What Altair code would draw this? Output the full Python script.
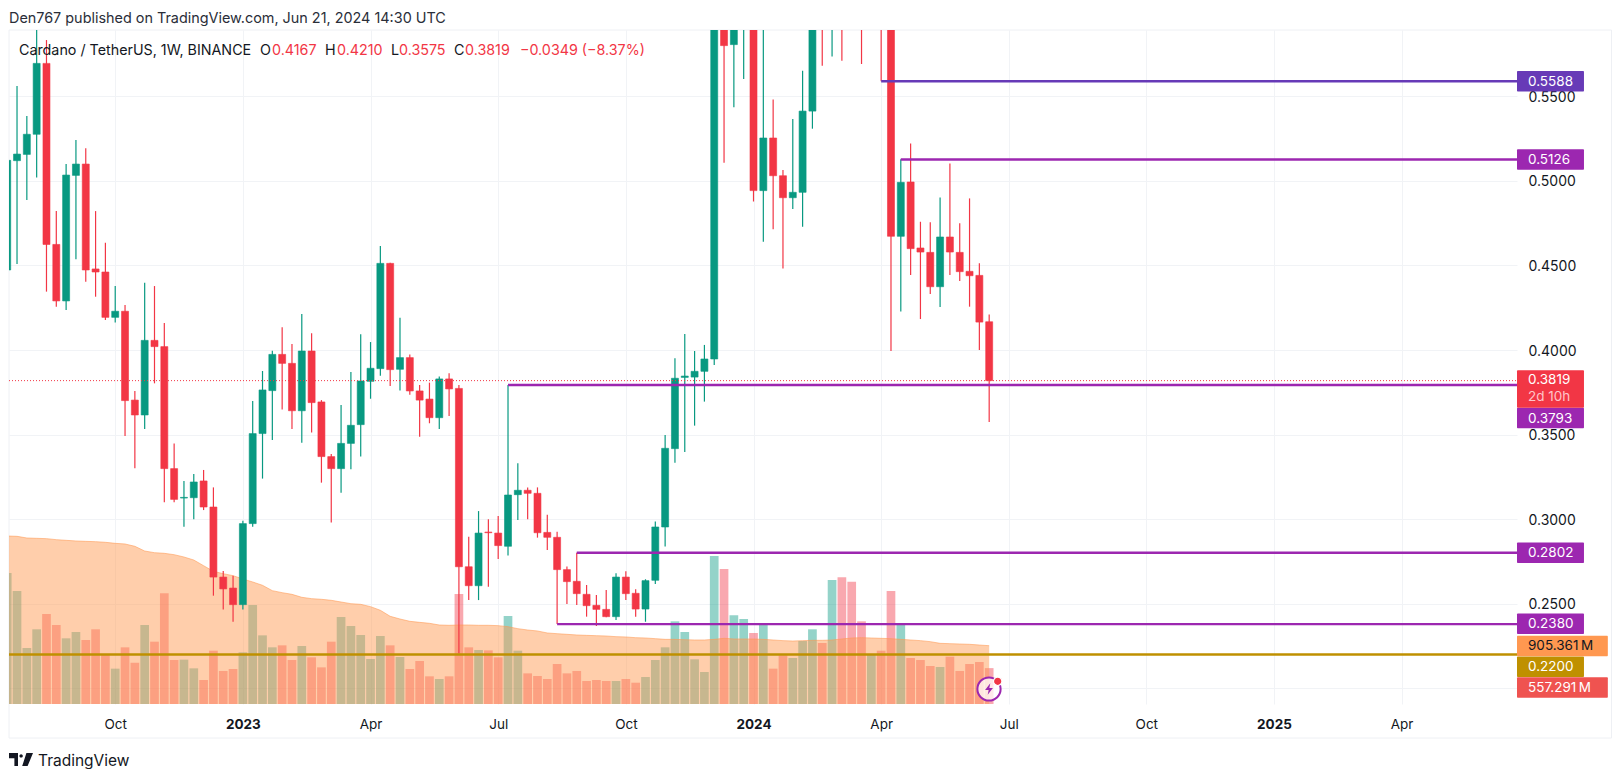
import altair as alt
import pandas as pd

opens = [.4473,.5119,.5156,.5275,.5694,.4624,.4290,.5032,.5099,.4479,.4461,.4193,.4229,.3704,.3616,.4057,.4020,.3299,.3125,.3127,
         .3226,.3072,.2658,.2593,.2495,.2974,.3506,.3760,.3974,.3921,.3641,.3994,.3693,.3370,.3299,.3448,.3559,.3815,.3890,.4512,
         .3886,.3955,.3758,.3710,.3600,.3829,.3773,.2719,.2607,.2924,.2918,.2840,.3145,.3171,.3153,.2922,.2893,.2702,.2633,.2556,
         .2491,.2467,.2424,.2658,.2562,.2469,.2639,.2954,.3417,.3838,.3840,.3874,.3947,.6000,.5805,.6000,.6300,.4942,.5253,.5030,
         .4900,.4932,.5412,.6200,.5950,.6200,.7000,.7200,.6000,.6500,.5950,.4672,.4993,.4603,.4577,.4374,.4668,.4577,.4465,.4441,.4167]
closes = [.5121,.5158,.5275,.5694,.4624,.4290,.5034,.5099,.4473,.4461,.4193,.4229,.3701,.3616,.4057,.4020,.3299,.3117,.3129,.3220,
          .3072,.2658,.2588,.2495,.2974,.3506,.3764,.3974,.3921,.3641,.3994,.3689,.3370,.3299,.3448,.3555,.3817,.3892,.4512,.3884,
          .3955,.3758,.3704,.3600,.3829,.3770,.2719,.2607,.2918,.2920,.2844,.3143,.3171,.3153,.2920,.2893,.2702,.2631,.2560,.2489,
          .2467,.2424,.2658,.2560,.2469,.2637,.2954,.3419,.3833,.3846,.3874,.3947,.6000,.5799,.6100,.6200,.4942,.5253,.5030,.4900,
          .4932,.5412,.6000,.6000,.6050,.6000,.6600,.6500,.6500,.6000,.4672,.4991,.4599,.4579,.4374,.4668,.4579,.4463,.4439,.4165,.3819]
highs = [.5121,.5560,.5383,.6200,.5832,.4821,.5099,.5241,.5192,.4821,.4634,.4378,.4266,.3758,.4398,.4378,.4160,.3448,.3226,.3267,
         .3291,.3188,.2694,.2666,.2991,.3699,.3876,.3996,.4134,.4035,.4213,.4099,.3704,.3385,.3675,.3870,.4093,.4047,.4615,.4516,
         .4191,.3974,.3793,.3807,.3844,.3862,.3793,.2897,.3048,.2999,.3019,.3793,.3330,.3188,.3188,.3027,.2926,.2721,.2802,.2611,
         .2552,.2582,.2680,.2692,.2586,.2645,.2987,.3498,.3951,.4095,.3994,.4030,.6300,.6400,.6300,.6600,.6800,.6000,.5481,.5064,
         .5365,.5651,.6100,.6300,.6200,.6500,.7200,.7800,.7000,.6800,.6000,.5127,.5221,.4758,.4755,.4902,.5103,.4749,.4896,.4512,.4210]
lows = [.4473,.4508,.4887,.5020,.4345,.4256,.4236,.4536,.4404,.4315,.4177,.4162,.3492,.3301,.3533,.3803,.3100,.3100,.2956,.2999,
        .3054,.2548,.2467,.2394,.2467,.2956,.3240,.3468,.3649,.3533,.3452,.3513,.3216,.2980,.3157,.3295,.3370,.3712,.3848,.3787,
        .3760,.3736,.3488,.3567,.3533,.3610,.2207,.2522,.2522,.2601,.2765,.2785,.2995,.2999,.2891,.2818,.2381,.2499,.2493,.2424,
        .2369,.2420,.2404,.2522,.2424,.2394,.2617,.2838,.3334,.3397,.3553,.3695,.3911,.5107,.5434,.5602,.4877,.4640,.4713,.4481,
        .4833,.4729,.5308,.5680,.5734,.5710,.6000,.5690,.5950,.5588,.3994,.4227,.4443,.4183,.4331,.4254,.4443,.4408,.4256,.4000,.3575]
volumes = [2035,1755,870,1160,1398,1227,1020,1118,994,1160,766,549,880,642,1227,968,1719,683,689,554,
           373,828,513,544,802,1538,1066,880,911,683,901,725,569,968,1351,1211,1072,699,1056,911,
           730,544,668,430,388,430,1708,880,839,833,725,1367,828,476,435,388,621,476,513,357,
           373,357,357,388,331,419,683,880,1284,1118,694,497,2299,2097,1377,1320,1103,1227,549,756,
           714,978,1160,947,1926,1967,1900,1284,777,828,1755,1227,714,683,590,575,735,513,621,652,557.291]
vol_ma = [2609,2604,2578,2573,2568,2552,2542,2532,2526,2521,2511,2495,2485,2449,2376,2350,2340,2319,2283,2236,
          2148,2060,2024,1993,1941,1895,1843,1760,1729,1703,1657,1636,1626,1610,1584,1558,1548,1512,1455,1362,
          1320,1284,1268,1253,1227,1222,1227,1227,1222,1222,1217,1201,1170,1149,1134,1103,1092,1082,1072,1066,
          1061,1056,1046,1041,1030,1025,1015,1004,1004,999,994,994,1004,1020,1010,1010,1010,1004,994,984,
          978,984,989,989,994,1010,1025,1030,1025,1020,1015,1004,994,984,968,942,937,932,927,916,905.361]

tick_bars = [11, 24, 37, 50, 63, 76, 89, 102, 116, 129, 142]
tick_names = ["Oct", "2023", "Apr", "Jul", "Oct", "2024", "Apr", "Jul", "Oct", "2025", "Apr"]
year_bars = [24, 76, 129]
price_ticks = [.20, .25, .30, .35, .40, .45, .50, .55]

level_start = [89, 91, 51, 58, 56, 0.1833]
level_price = [.5588, .5126, .3793, .2802, .2380, .2200]
level_color = ["#673ab7", "#9c27b0", "#9c27b0", "#9c27b0", "#9c27b0", "#bf9000"]

# price tags on the axis: the centre of each tag after the axis has stacked them
tag_center = [.5588, .5126, .3598, .2802, .2382, .2128, .2251, .2005]
tag_text = ["0.5588", "0.5126", "0.3793", "0.2802", "0.2380", "0.2200", "905.361\u202fM", "557.291\u202fM"]
tag_fill = ["#673ab7", "#9c27b0", "#9c27b0", "#9c27b0", "#9c27b0", "#bf9000", "#ff9850", "#ef5350"]
tag_ink = ["#ffffff", "#ffffff", "#ffffff", "#ffffff", "#ffffff", "#ffffff", "#131722", "#ffffff"]
tag_wide = [False, False, False, False, False, False, True, True]

UP, DOWN = "#089981", "#f23645"
FONT = "Inter"
INK = "#131722"

X0, X1 = 0.1833, 153.75       # bar-index window of the pane
P0, P1 = 0.19078, 0.58913     # price window of the pane
V0, V1 = 0, 10467             # volume window (M)
TAG_END, TAG_END_WIDE = 160.57, 163.0
TH = 0.00606                  # half-height of a price tag, in price units

df = pd.DataFrame({
    "bar": list(range(len(opens))), "open": opens, "close": closes, "high": highs, "low": lows,
    "vol": volumes, "ma": vol_ma,
})
df["dir"] = ["up" if c >= o else "down" for o, c in zip(opens, closes)]

xs = alt.Scale(domain=[X0, X1], range=[0, 1508], nice=False, zero=False, padding=0)
ps = alt.Scale(domain=[P0, P1], nice=False, zero=False)
vs = alt.Scale(domain=[V0, V1], nice=False, zero=False)
cs = alt.Color("dir:N", scale=alt.Scale(domain=["up", "down"], range=[UP, DOWN]), legend=None)

label_expr = "".join(f"datum.value=={b}?'{n}':" for b, n in zip(tick_bars, tick_names)) + "''"
year_test = "||".join(f"datum.value=={b}" for b in year_bars)
x_axis = alt.Axis(
    values=tick_bars, labelExpr=label_expr, grid=True, gridColor="#f1f3f6", domain=False, ticks=False,
    labelFont=FONT, labelFontSize=13.5, labelColor=INK, labelPadding=13, labelOverlap=False,
    labelFlush=False, labelBound=False, labelFontWeight=alt.expr(f"({year_test})?'bold':'normal'"))


def X(f):
    return alt.X(f, scale=xs, axis=x_axis, title=None)


def Y(f):
    return alt.Y(f, scale=ps, axis=None, title=None)


def V(f):
    return alt.Y(f, scale=vs, axis=None, title=None)


axes_y = alt.Chart(pd.DataFrame({"p": price_ticks})).mark_rule(opacity=0).encode(
    y=alt.Y("p:Q", scale=ps, title=None, axis=alt.Axis(
        orient="right", values=price_ticks, format=".4f", grid=True, gridColor="#f1f3f6", domain=False, ticks=False,
        labelFont=FONT, labelFontSize=14, labelColor=INK, labelPadding=11, labelOverlap=False, labelOffset=1,
        labelFlush=False, labelBound=False)),
)

base = alt.Chart(df)
vol_bars = base.mark_bar(size=8.7, opacity=0.43, clip=True, orient="vertical").encode(
    x=X("bar:Q"), y=V("vol:Q"), y2=alt.Y2(datum=0), color=cs)
ma_area = base.mark_area(color="#ff9850", opacity=0.48, clip=True).encode(
    x=X("bar:Q"), y=V("ma:Q"), y2=alt.Y2(datum=0))
ma_line = base.mark_line(color="#ff9850", opacity=0.55, strokeWidth=1, clip=True).encode(
    x=X("bar:Q"), y=V("ma:Q"))
wicks = base.mark_rule(strokeWidth=1.2, clip=True).encode(
    x=X("bar:Q"), y=Y("low:Q"), y2="high:Q", color=cs)
bodies = base.mark_bar(size=7, clip=True, orient="vertical", strokeWidth=0.6).encode(
    x=X("bar:Q"), y=Y("open:Q"), y2="close:Q", color=cs, stroke=cs)

levels = alt.Chart(pd.DataFrame({"start": level_start, "p": level_price, "c": level_color})).mark_rule(
    strokeWidth=2.4, clip=True).encode(
    x=X("start:Q"), x2=alt.X2(datum=X1), y=Y("p:Q"), color=alt.Color("c:N", scale=None))

last_line = alt.Chart(pd.DataFrame({"p": [closes[-1]], "a": [X0], "b": [X1]})).mark_rule(
    strokeDash=[1, 2], strokeWidth=1, color=DOWN, clip=True).encode(
    x=X("a:Q"), x2="b:Q", y=Y("p:Q"))

tag_df = pd.DataFrame({
    "p": tag_center, "t": tag_text, "fill": tag_fill, "ink": tag_ink,
    "end": [TAG_END_WIDE if w else TAG_END for w in tag_wide],
})
tag_df["edge"] = X1
tag_df["hi"] = tag_df["p"] + TH
tag_df["lo"] = tag_df["p"] - TH
tag_rects = alt.Chart(tag_df).mark_rect(cornerRadius=1).encode(
    x=X("edge:Q"), x2="end:Q", y=Y("hi:Q"), y2="lo:Q", color=alt.Color("fill:N", scale=None))
tag_texts = alt.Chart(tag_df).mark_text(font=FONT, fontSize=13.5, align="left", baseline="middle", dx=11, dy=0.5).encode(
    x=X("edge:Q"), y=Y("p:Q"), text="t:N", color=alt.Color("ink:N", scale=None))

last_rect = alt.Chart(pd.DataFrame({"hi": [.3881], "lo": [.3659], "edge": [X1], "end": [TAG_END]})).mark_rect(
    cornerRadius=1, color=DOWN).encode(
    x=X("edge:Q"), x2="end:Q", y=Y("hi:Q"), y2="lo:Q")
last_text = alt.Chart(pd.DataFrame({
    "p": [.3823, .3724], "t": ["0.3819", "2d 10h"], "c": ["#ffffff", "#ffc4c9"], "edge": [X1, X1],
})).mark_text(font=FONT, fontSize=13.5, align="left", baseline="middle", dx=11, dy=0.5).encode(
    x=X("edge:Q"), y=Y("p:Q"), text="t:N", color=alt.Color("c:N", scale=None))


def txt(text, px, py, color=INK, size=14.3, weight="normal", align="left"):
    return alt.Chart(pd.DataFrame({"t": [text]})).mark_text(
        color=color, font=FONT, fontSize=size, fontWeight=weight, align=align, baseline="middle").encode(
        x=alt.value(px - 9), y=alt.value(py - 30), text="t:N")


header = [
    txt("Cardano / TetherUS, 1W, BINANCE", 19, 51),
    txt("O", 260, 51), txt("0.4167", 272, 51, DOWN),
    txt("H", 325, 51), txt("0.4210", 337, 51, DOWN),
    txt("L", 391, 51), txt("0.3575", 399, 51, DOWN),
    txt("C", 454, 51), txt("0.3819", 465, 51, DOWN),
    txt("\u22120.0349 (\u22128.37%)", 520, 51, DOWN),
]
footer = [txt("TradingView", 38, 761, color="#131722", size=15.5)]

one = pd.DataFrame({"a": [0]})
logo = alt.Chart(one).mark_point(
    shape="M-1 -0.55 H-0.25 V0.55 H-0.55 V-0.1 H-1 Z M-0.13 -0.3 A0.14 0.14 0 1 0 0.15 -0.3 A0.14 0.14 0 1 0 -0.13 -0.3 Z M0.45 -0.55 H1 L0.55 0.55 H0.1 Z",
    filled=True, color="#131722", size=576, opacity=1).encode(x=alt.value(21 - 9), y=alt.value(759.5 - 30))

icon_ring = alt.Chart(one).mark_point(shape="circle", size=540, filled=True, fill="#ffffff", fillOpacity=0.75,
                                      stroke="#9c27b0", strokeWidth=2, opacity=1).encode(
    x=alt.value(989 - 9), y=alt.value(689 - 30))
icon_bolt = alt.Chart(one).mark_point(
    shape="M0.2 -0.9 L-0.6 0.15 H-0.05 L-0.2 0.9 L0.6 -0.15 H0.05 Z",
    filled=True, color="#9c27b0", size=170, opacity=1).encode(x=alt.value(989 - 9), y=alt.value(689 - 30))
icon_dot = alt.Chart(one).mark_point(shape="circle", size=70, filled=True, fill=DOWN, stroke="#ffffff",
                                     strokeWidth=1.2, opacity=1).encode(x=alt.value(997.7 - 9), y=alt.value(681.3 - 30))

frame = alt.Chart(one).mark_rect(fillOpacity=0, stroke="#eef0f4", strokeWidth=1).encode(
    x=alt.value(0), x2=alt.value(1602.5), y=alt.value(0), y2=alt.value(708))

chart = alt.layer(
    axes_y, frame, vol_bars, ma_area, ma_line, wicks, bodies, levels, last_line,
    tag_rects, tag_texts, last_rect, last_text,
    *header, *footer, logo, icon_ring, icon_bolt, icon_dot,
).resolve_scale(y="independent").properties(
    width=1508, height=674,
    padding={"left": 1, "top": 22, "right": 95, "bottom": 65},
    autosize=alt.AutoSizeParams(type="none"),
    title=alt.TitleParams("Den767 published on TradingView.com, Jun 21, 2024 14:30 UTC", anchor="start",
                          frame="group", font=FONT, fontSize=14.4, fontWeight="normal", color="#2a2e39", offset=3),
).configure_view(stroke=None)

chart.save("out.html", embed_options={"renderer": "svg", "actions": False})
